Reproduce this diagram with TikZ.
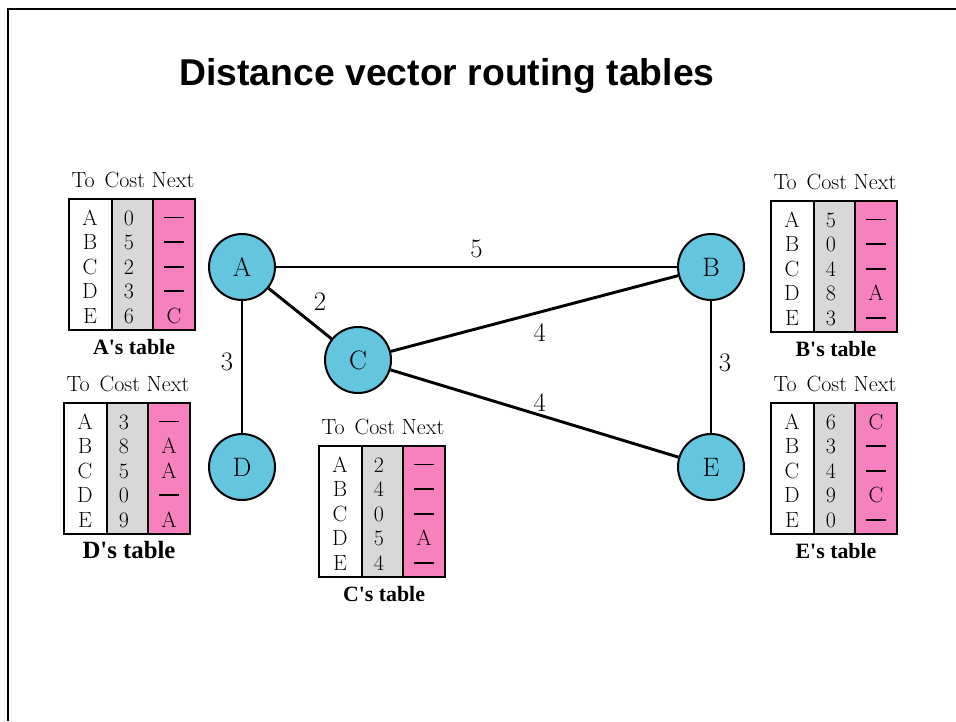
\documentclass[tikz,border=0pt]{standalone}
\usepackage{fontspec}
\newfontfamily\titlefont{Liberation Sans}
\newfontfamily\capfont{Liberation Serif}
\usetikzlibrary{positioning}

\definecolor{routerblue}{RGB}{100,197,222}
\definecolor{nextpink}{RGB}{247,128,190}
\definecolor{costgray}{RGB}{216,216,216}

\newcommand{\nohop}{\rule[0.3em]{15pt}{1.4pt}}
\newcommand{\rtable}[6]% left, top, costs, nexts, name, caption
{\fill[costgray] (#1+43,#2) rectangle (#1+84,#2+131);
 \fill[nextpink] (#1+84,#2) rectangle (#1+126,#2+131);
 \draw[tabline] (#1,#2) rectangle (#1+126,#2+131);
 \draw[tabline] (#1+43,#2) -- (#1+43,#2+131);
 \draw[tabline] (#1+84,#2) -- (#1+84,#2+131);
 \node[tabtext] (#5-head) at (#1+64,#2-12) {To\hspace{0.45em}Cost Next};
 \foreach \dst [count=\i from 0] in {A,B,C,D,E}
   \node[tabtext] (#5-to\i) at (#1+21,#2+26+24.6*\i) {\dst};
 \foreach \cst [count=\i from 0] in {#3}
   \node[tabtext] (#5-cost\i) at (#1+60,#2+26+24.6*\i) {\cst};
 \foreach \nxt [count=\i from 0] in {#4}
   \node[tabtext] (#5-next\i) at (#1+105,#2+26+24.6*\i) {\nxt};
 \node[caption] (#5-cap) at (#1+65,#2+155) {#6};
}

\begin{document}
\begin{tikzpicture}[x=0.75pt,y=-0.75pt,
	router/.style={circle, draw, line width=1.5pt, fill=routerblue,
		minimum size=49.5pt, inner sep=0pt, font=\fontsize{20}{24}\selectfont},
	link/.style={line width=2.2pt},
	elabel/.style={inner sep=0pt, font=\fontsize{20}{24}\selectfont},
	tabline/.style={line width=1.2pt},
	tabtext/.style={anchor=base, inner sep=0pt, font=\fontsize{16.5}{19}\selectfont},
	caption/.style={anchor=base, inner sep=0pt, font=\capfont\bfseries\fontsize{16.4}{19}\selectfont}]
	\useasboundingbox (0,0) rectangle (956,721);
	\draw[line width=1.9pt, line join=miter] (8,721) -- (8,9) -- (956,9);
	\node[anchor=base, font=\titlefont\bfseries\fontsize{28}{34}\selectfont] (title)
		at (447,85) {Distance vector routing tables};
	% routers
	\node[router] (A) at (242,267) {A};
	\node[router] (B) at (711,267) {B};
	\node[router] (C) at (358,360) {C};
	\node[router] (D) at (242,467) {D};
	\node[router] (E) at (711,467) {E};
	% links
	\draw[link] (A) -- node[elabel, yshift=13.5pt]{5} (B);
	\draw[link] (A) -- node[elabel, xshift=15pt, yshift=9pt]{2} (C);
	\draw[link] (C) -- node[elabel, xshift=4pt, yshift=-14.6pt]{4} (B);
	\draw[link] (C) -- node[elabel, xshift=4pt, yshift=8.3pt]{4} (E);
	\draw[link] (A) -- node[elabel, xshift=-11.3pt, yshift=4pt]{3} (D);
	\draw[link] (B) -- node[elabel, xshift=10.5pt, yshift=3.4pt]{3} (E);
	% tables
	\rtable{69}{199}{0,5,2,3,6}{\nohop,\nohop,\nohop,\nohop,C}{tA}{A\textquotesingle s table}
	\rtable{771}{201}{5,0,4,8,3}{\nohop,\nohop,\nohop,A,\nohop}{tB}{B\textquotesingle s table}
	\rtable{319}{446}{2,4,0,5,4}{\nohop,\nohop,\nohop,A,\nohop}{tC}{C\textquotesingle s table}
	\rtable{64}{403}{3,8,5,0,9}{\nohop,A,A,\nohop,A}{tD}{\fontsize{18.6}{22}\selectfont D\textquotesingle s table}
	\rtable{771}{403}{6,3,4,9,0}{C,\nohop,\nohop,C,\nohop}{tE}{E\textquotesingle s table}
\end{tikzpicture}
\end{document}
